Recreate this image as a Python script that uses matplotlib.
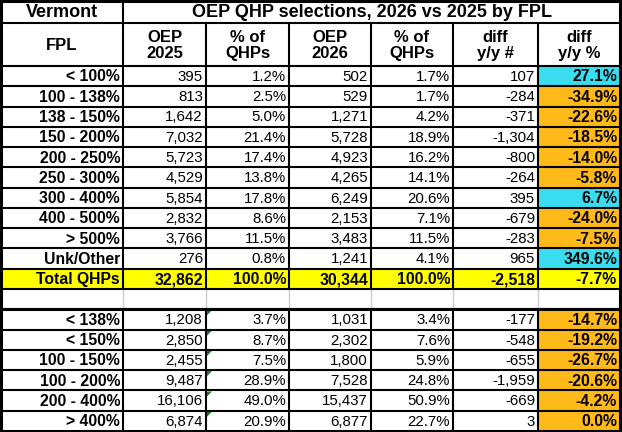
import matplotlib
matplotlib.use("Agg")
import matplotlib.pyplot as plt
from matplotlib.patches import Rectangle, Polygon

plt.rcParams['font.family'] = ['Liberation Sans', 'DejaVu Sans']

'''########################## DATA ##########################'''
title = "OEP QHP selections, 2026 vs 2025 by FPL"
state = "Vermont"
col_headers = ["FPL", "OEP\n2025", "% of\nQHPs", "OEP\n2026", "% of\nQHPs", "diff\ny/y #", "diff\ny/y %"]

fpl = ['< 100%', '100 - 138%', '138 - 150%', '150 - 200%', '200 - 250%',
       '250 - 300%', '300 - 400%', '400 - 500%', '> 500%', 'Unk/Other']
oep25 = [395, 813, 1642, 7032, 5723, 4529, 5854, 2832, 3766, 276]
pct25 = [1.2, 2.5, 5.0, 21.4, 17.4, 13.8, 17.8, 8.6, 11.5, 0.8]
oep26 = [502, 529, 1271, 5728, 4923, 4265, 6249, 2153, 3483, 1241]
pct26 = [1.7, 1.7, 4.2, 18.9, 16.2, 14.1, 20.6, 7.1, 11.5, 4.1]
diff = [107, -284, -371, -1304, -800, -264, 395, -679, -283, 965]
diff_pct = [27.1, -34.9, -22.6, -18.5, -14.0, -5.8, 6.7, -24.0, -7.5, 349.6]

total_label = "Total QHPs"
total = [32862, 100.0, 30344, 100.0, -2518, -7.7]

groups = ['< 138%', '< 150%', '100 - 150%', '100 - 200%', '200 - 400%', '> 400%']
oep25_g = [1208, 2850, 2455, 9487, 16106, 6874]
pct25_g = [3.7, 8.7, 7.5, 28.9, 49.0, 20.9]
oep26_g = [1031, 2302, 1800, 7528, 15437, 6877]
pct26_g = [3.4, 7.6, 5.9, 24.8, 50.9, 22.7]
diff_g = [-177, -548, -655, -1959, -669, 3]
diff_pct_g = [-14.7, -19.2, -26.7, -20.6, -4.2, 0.0]

'''########################## LAYOUT ##########################'''
W, H = 622, 432
col_edges = [1, 123, 206, 289, 371, 453, 538, 620]
h_title = 23
h_head = 43
row_h = (H - 1 - h_title - h_head) / 18

CYAN = '#3ADCF0'
ORANGE = '#FFBA1A'
YELLOW = '#FFFF00'
GREEN = '#1F7A30'
pad = 3
fs_num = 10.8
fs_bold = 11.3

fig = plt.figure(figsize=(W / 100, H / 100), dpi=100)
ax = fig.add_axes([0, 0, 1, 1])
ax.set_xlim(0, W)
ax.set_ylim(H, 0)
ax.axis('off')


def fmt_int(v):
    return f"{v:,}"


def fmt_pct(v):
    return f"{v:.1f}%"


def put_row(y0, label, vals, bold_all=False, fill=None, diff_colors=True, triangle=False):
    y_mid = y0 + row_h / 2 + 0.8
    if fill:
        ax.add_patch(Rectangle((col_edges[0], y0), col_edges[-1] - col_edges[0], row_h,
                               facecolor=fill, edgecolor='none', zorder=1))
    elif diff_colors:
        c = CYAN if vals[5] > 0 else ORANGE
        ax.add_patch(Rectangle((col_edges[6], y0), col_edges[7] - col_edges[6], row_h,
                               facecolor=c, edgecolor='none', zorder=1))
    texts = [label, fmt_int(vals[0]), fmt_pct(vals[1]), fmt_int(vals[2]),
             fmt_pct(vals[3]), fmt_int(vals[4]), fmt_pct(vals[5])]
    for i, t in enumerate(texts):
        bold = bold_all or i == 0 or i == 6
        ax.text(col_edges[i + 1] - pad, y_mid, t, ha='right', va='center',
                fontsize=fs_bold if bold else fs_num,
                fontweight='bold' if bold else 'normal', zorder=3)
    if triangle:
        x = col_edges[2] + 1
        ax.add_patch(Polygon([(x, y0 + 1), (x + 5, y0 + 1), (x, y0 + 6)],
                             closed=True, facecolor=GREEN, edgecolor='none', zorder=3))


# header
ax.text((col_edges[0] + col_edges[1]) / 2, h_title / 2 + 1, state, ha='center', va='center',
        fontsize=13, fontweight='bold')
ax.text((col_edges[1] + col_edges[7]) / 2, h_title / 2 + 1, title, ha='center', va='center',
        fontsize=13, fontweight='bold')
for i, t in enumerate(col_headers):
    ax.text((col_edges[i] + col_edges[i + 1]) / 2, h_title + h_head / 2 + 1, t,
            ha='center', va='center', fontsize=12, fontweight='bold', linespacing=1.1)

# main rows
y = h_title + h_head
for i in range(len(fpl)):
    put_row(y, fpl[i], [oep25[i], pct25[i], oep26[i], pct26[i], diff[i], diff_pct[i]])
    y += row_h
put_row(y, total_label, total, bold_all=True, fill=YELLOW, diff_colors=False)
y += row_h
y_blank = y
y += row_h
y_groups = y
for i in range(len(groups)):
    put_row(y, groups[i], [oep25_g[i], pct25_g[i], oep26_g[i], pct26_g[i], diff_g[i], diff_pct_g[i]],
            triangle=True)
    y += row_h
y_end = y

# grid lines
lw = 1.5
ax.hlines(h_title, col_edges[0], col_edges[-1], color='black', lw=lw, zorder=4)
ax.hlines(h_title + h_head, col_edges[0], col_edges[-1], color='black', lw=lw, zorder=4)
yy = h_title + h_head
for i in range(len(fpl) + 2):
    yy += row_h
    ax.hlines(yy, col_edges[0], col_edges[-1], color='black', lw=lw, zorder=4)
yy = y_groups
for i in range(len(groups) - 1):
    yy += row_h
    ax.hlines(yy, col_edges[0], col_edges[-1], color='black', lw=lw, zorder=4)
ax.hlines(y_groups, col_edges[0], col_edges[-1], color='black', lw=2.2, zorder=4)

ax.vlines(col_edges[1], 0, y_blank, color='black', lw=lw, zorder=4)
ax.vlines(col_edges[1], y_groups, y_end, color='black', lw=lw, zorder=4)
for x in col_edges[1:-1]:
    ax.vlines(x, y_blank, y_groups, color='#cccccc', lw=1, zorder=2)
for x in col_edges[2:-1]:
    ax.vlines(x, h_title, y_blank, color='black', lw=lw, zorder=4)
    ax.vlines(x, y_groups, y_end, color='black', lw=lw, zorder=4)

# outer border
ax.add_patch(Rectangle((col_edges[0], 1), col_edges[-1] - col_edges[0], y_end - 1,
                       facecolor='none', edgecolor='black', lw=2.2, zorder=6))

fig.savefig('out.png', dpi=100)
